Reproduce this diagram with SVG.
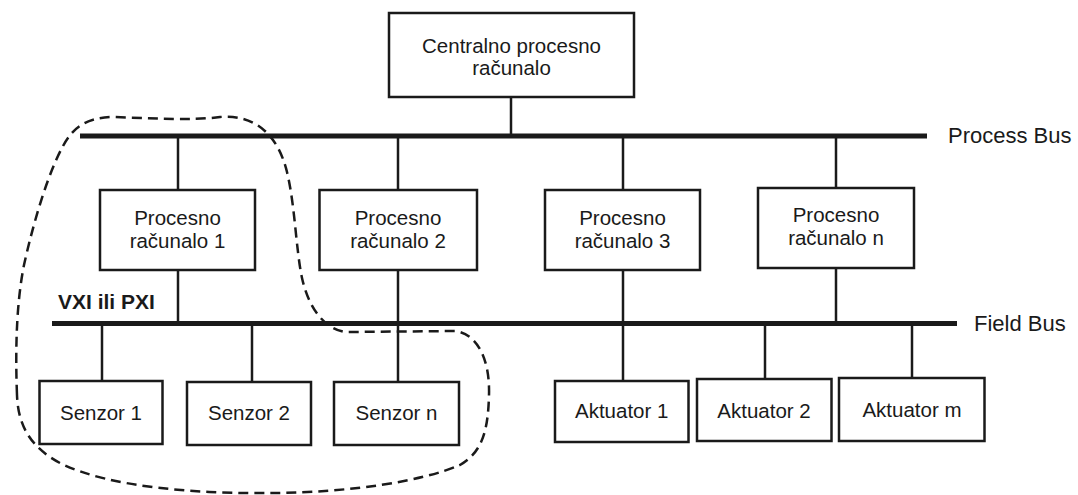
<svg xmlns="http://www.w3.org/2000/svg" width="1078" height="495" viewBox="0 0 1078 495">
<style>
.box{fill:#fff;stroke:#1a1a1a;stroke-width:2.5}
.t{font-family:"Liberation Sans",Arial,sans-serif;font-size:20.5px;fill:#1a1a1a;text-anchor:middle}
.lbl{font-family:"Liberation Sans",Arial,sans-serif;font-size:22px;fill:#1a1a1a}
.bus{stroke:#1a1a1a;stroke-width:5;fill:none}
.ln{stroke:#1a1a1a;stroke-width:2.5;fill:none}
.dash{stroke:#1a1a1a;stroke-width:2.5;fill:none;stroke-dasharray:10 6}
</style>
<rect width="1078" height="495" fill="#fff"/>
<g id="connectors">
<line class="ln" x1="511" y1="97" x2="511" y2="136"/>
<line class="ln" x1="178" y1="136" x2="178" y2="190"/>
<line class="ln" x1="398" y1="136" x2="398" y2="190"/>
<line class="ln" x1="623" y1="136" x2="623" y2="190"/>
<line class="ln" x1="836" y1="136" x2="836" y2="188"/>
<line class="ln" x1="178" y1="270" x2="178" y2="323"/>
<line class="ln" x1="398" y1="270" x2="398" y2="382"/>
<line class="ln" x1="623" y1="270" x2="623" y2="381"/>
<line class="ln" x1="836" y1="268" x2="836" y2="323"/>
<line class="ln" x1="102" y1="323" x2="102" y2="381"/>
<line class="ln" x1="252" y1="323" x2="252" y2="382"/>
<line class="ln" x1="765" y1="323" x2="765" y2="379"/>
<line class="ln" x1="912" y1="323" x2="912" y2="378"/>
<line class="bus" x1="80" y1="136" x2="927" y2="136"/>
<line class="bus" x1="52" y1="323.5" x2="957" y2="323.5"/>
</g>
<g id="labels">
<text class="lbl" x="948" y="143">Process Bus</text>
<text class="lbl" x="974" y="331">Field Bus</text>
<text x="58" y="309" font-family="'Liberation Sans',Arial,sans-serif" font-size="21" font-weight="bold" fill="#1a1a1a">VXI ili PXI</text>
</g>
<g id="central">
<rect class="box" x="389" y="13" width="245" height="84"/>
<text class="t" x="511.5" y="53">Centralno procesno</text>
<text class="t" x="511.5" y="75">računalo</text>
</g>
<g id="pr1">
<rect class="box" x="100" y="190" width="155" height="80"/>
<text class="t" x="177.5" y="224.5">Procesno</text>
<text class="t" x="177.5" y="248">računalo 1</text>
</g>
<g id="pr2">
<rect class="box" x="319.5" y="190" width="157.5" height="80"/>
<text class="t" x="398" y="224.5">Procesno</text>
<text class="t" x="398" y="248">računalo 2</text>
</g>
<g id="pr3">
<rect class="box" x="545" y="190" width="155" height="80"/>
<text class="t" x="622.5" y="224.5">Procesno</text>
<text class="t" x="622.5" y="248">računalo 3</text>
</g>
<g id="prn">
<rect class="box" x="758" y="188" width="156" height="80"/>
<text class="t" x="836" y="222">Procesno</text>
<text class="t" x="836" y="245">računalo n</text>
</g>
<g id="s1">
<rect class="box" x="39.5" y="381" width="123" height="63"/>
<text class="t" x="101" y="420">Senzor 1</text>
</g>
<g id="s2">
<rect class="box" x="187" y="382" width="124" height="63"/>
<text class="t" x="249" y="420">Senzor 2</text>
</g>
<g id="sn">
<rect class="box" x="334" y="382" width="125" height="63"/>
<text class="t" x="396.5" y="420">Senzor n</text>
</g>
<g id="a1">
<rect class="box" x="555" y="381" width="133.5" height="61"/>
<text class="t" x="621.7" y="418">Aktuator 1</text>
</g>
<g id="a2">
<rect class="box" x="697" y="379" width="134.5" height="62"/>
<text class="t" x="764" y="418">Aktuator 2</text>
</g>
<g id="am">
<rect class="box" x="839" y="378" width="145.5" height="63"/>
<text class="t" x="912" y="417">Aktuator m</text>
</g>
<g id="vxi-boundary">
<path class="dash" d="M17,395 C15,345 17,300 24,265 C35,215 50,170 62,148 C72,128 85,118 112,117 C150,118 190,121 220,117 C255,114 278,135 287,172 C295,205 296,250 302,278 C308,305 322,328 345,332 L455,331 C478,334 490,360 489,395 C488,432 482,452 460,465 C420,482 350,492 275,493 C200,494 110,488 60,463 C30,447 18,425 17,395 Z"/>
</g>
</svg>
